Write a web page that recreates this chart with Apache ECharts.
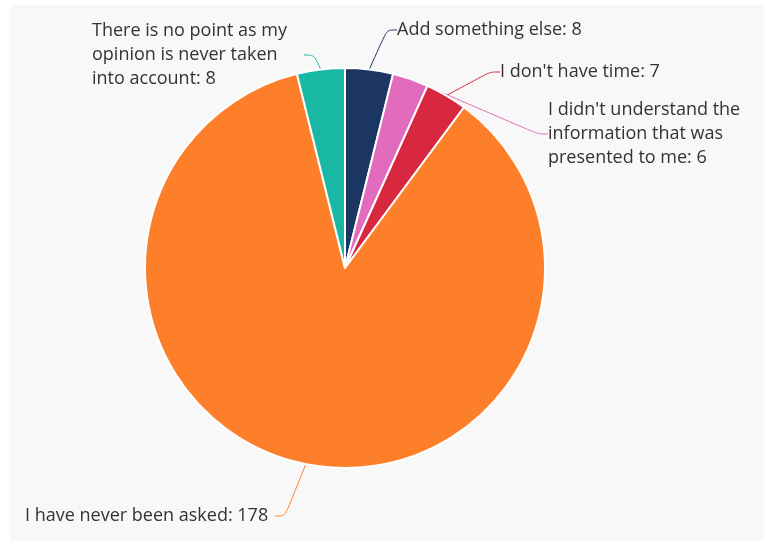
<!DOCTYPE html>
<html>
<head>
<meta charset="utf-8">
<script src="https://cdn.jsdelivr.net/npm/echarts@6/dist/echarts.min.js"></script>
<style>
  html, body { margin: 0; padding: 0; background: #fff; }
  #chart {
    position: absolute;
    left: 10px;
    top: 5px;
    width: 754px;
    height: 536px;
    background: #f8f8f8;
  }
</style>
</head>
<body>
<div id="chart"></div>
<script>
// slices in clockwise order, starting from 12 o'clock
var categories = [
  "Add something else",
  "I didn't understand the information that was presented to me",
  "I don't have time",
  "I have never been asked",
  "There is no point as my opinion is never taken into account"
];
var values = [8, 6, 7, 178, 8];
var colors = ["#1c3664", "#e26bbd", "#d8283f", "#fd7f2a", "#19b8a5"];

// where each label sits (left edge, vertical middle), relative to the chart box
var labelSpots = [
  { x: 387, y: 25, w: 200 },
  { x: 538, y: 129, w: 212 },
  { x: 490, y: 67, w: 180 },
  { x: 15, y: 511, w: 250 },
  { x: 82, y: 50, w: 212 }
];

var chart = echarts.init(document.getElementById("chart"));

var seriesData = categories.map(function (name, i) {
  return {
    name: name,
    value: values[i],
    itemStyle: { color: colors[i] },
    label: { width: labelSpots[i].w }
  };
});

chart.setOption({
  animation: false,
  series: [{
    type: "pie",
    center: [335, 263],
    radius: [0, 200],
    startAngle: 90,
    clockwise: true,
    avoidLabelOverlap: false,
    itemStyle: { borderColor: "#ffffff", borderWidth: 2 },
    label: {
      show: true,
      position: "outside",
      formatter: "{b}: {c}",
      color: "#333333",
      fontFamily: "Open Sans",
      fontSize: 18,
      lineHeight: 24,
      overflow: "break",
      align: "left"
    },
    labelLine: {
      show: true,
      smooth: 0.3,
      length: 12,
      length2: 10,
      lineStyle: { width: 1 }
    },
    labelLayout: function (params) {
      var s = labelSpots[params.dataIndex];
      return { x: s.x, y: s.y, align: "left", verticalAlign: "middle" };
    },
    data: seriesData
  }]
});
</script>
</body>
</html>
